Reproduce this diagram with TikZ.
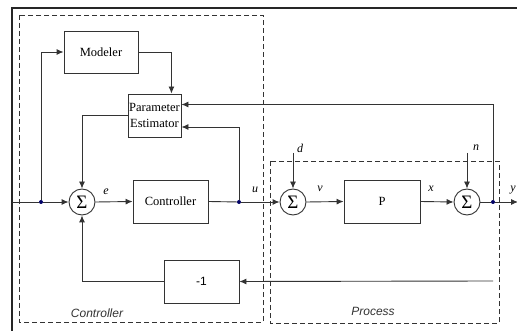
\documentclass[tikz,border=0pt]{standalone}
\usepackage{fontspec}
\setmainfont{Liberation Serif}
\setsansfont{Liberation Sans}
\usetikzlibrary{arrows.meta,calc}
\tikzset{
  blk/.style={draw=black!80, line width=0.9pt, rectangle, inner sep=0pt, minimum height=43pt, align=center, font=\fontsize{12.5}{16}\selectfont},
  sumnode/.style={draw=black!80, line width=0.9pt, circle, minimum size=26pt, inner sep=0pt, font=\fontsize{19}{19}\selectfont},
  conn/.style={draw=black!80, line width=0.9pt},
  arr/.style={conn, -{Latex[length=7pt,width=6pt]}},
  region/.style={draw=black!80, line width=0.8pt, dash pattern=on 5pt off 3pt},
  dot/.style={circle, fill=blue!40!black, inner sep=0pt, minimum size=4pt},
  sig/.style={font=\fontsize{12}{12}\selectfont\itshape},
  regionlabel/.style={font=\sffamily\itshape\fontsize{12}{12}\selectfont, text=black!80},
}
\begin{document}
\begin{tikzpicture}[x=1pt,y=-1pt]
\useasboundingbox (0,0) rectangle (517,331);
\fill[white] (0,0) rectangle (517,331);
% outer frame
\draw[black!85, line width=2pt] (12,345) -- (12,8) -- (530,8);
% regions
\draw[region] (19,15) rectangle (263,322);
\draw[region] (270,161) rectangle (499,323);
\node[regionlabel] (lc) at (97,313) {Controller};
\node[regionlabel] (lp) at (373,311) {Process};
% blocks
\node[blk, minimum width=74pt, minimum height=42pt] (modeler) at (101,52) {Modeler};
\node[blk, minimum width=53pt] (pe) at (154.5,115.5) {Parameter\\Estimator};
\node[sumnode] (s1) at (82,202) {Σ};
\node[blk, minimum width=75pt] (ctrl) at (170.5,201.5) {Controller};
\node[sumnode] (s2) at (293,202) {Σ};
\node[blk, minimum width=76pt] (p) at (382,201.5) {P};
\node[sumnode] (s3) at (467,202) {Σ};
\node[blk, minimum width=75pt, font=\sffamily\fontsize{12}{12}\selectfont] (neg) at (201.5,281.5) {-1};
% coordinates
\coordinate (in) at (12,202);
\node[dot] (j1) at (41,202) {};
\node[dot] (j2) at (239,202) {};
\node[dot] (j3) at (493,202) {};
\coordinate (out) at (518,202);
\coordinate (din) at (293,153);
\coordinate (nin) at (467,153);
\coordinate (fb) at (493,281);
% signal labels
\node[sig] (le) at (106,192) {e};
\node[sig] (lu) at (255,190) {u};
\node[sig] (ld) at (300,148) {d};
\node[sig] (lv) at (320,189) {v};
\node[sig] (lx) at (431,189) {x};
\node[sig] (ln) at (476,148) {n};
\node[sig, anchor=east, inner sep=1pt] (ly) at (517,190) {y};
% connectors
\draw[conn] (in) -- (j1);
\draw[arr] (j1) -- (s1.west);
\draw[arr] (j1) |- (modeler.west);
\draw[arr] (modeler.east) -| ($(pe.north east)+(-10,0)$);
\draw[arr] (pe.west) -| (s1.north);
\draw[arr] (s1.east) -- (ctrl.west);
\draw[conn] (ctrl.east) -- (j2);
\draw[arr] (j2) -- (s2.west);
\draw[arr] (j2) |- ($(pe.east)+(0,11.5)$);
\draw[arr] (din) -- (s2.north);
\draw[arr] (s2.east) -- (p.west);
\draw[arr] (p.east) -- (s3.west);
\draw[arr] (nin) -- (s3.north);
\draw[conn] (s3.east) -- (j3);
\draw[arr] (j3) -- (out);
\draw[arr] (j3) |- ($(pe.east)+(0,-11)$);
\draw[arr] (fb) -- (neg.east);
\draw[arr] (neg.west) -| (s1.south);
\end{tikzpicture}
\end{document}
